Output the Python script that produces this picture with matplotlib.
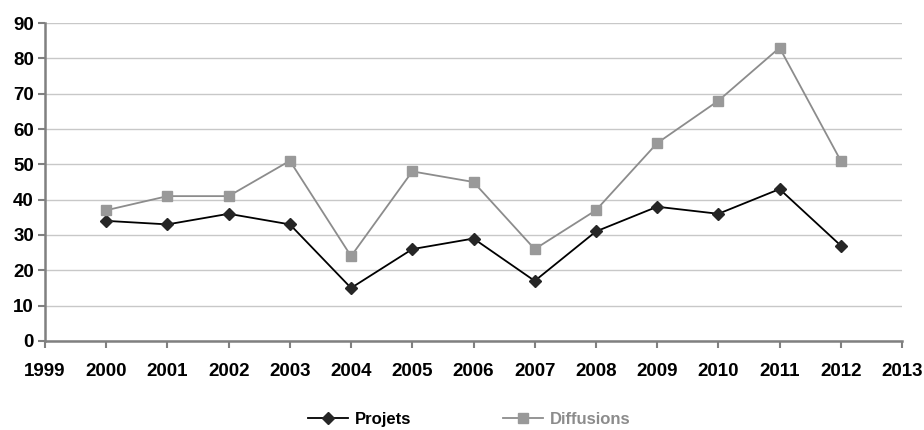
import matplotlib.pyplot as plt

years = [2000, 2001, 2002, 2003, 2004, 2005, 2006, 2007, 2008, 2009, 2010, 2011, 2012]
projets = [34, 33, 36, 33, 15, 26, 29, 17, 31, 38, 36, 43, 27]
diffusions = [37, 41, 41, 51, 24, 48, 45, 26, 37, 56, 68, 83, 51]
x_ticks = list(range(1999, 2014))
y_ticks = list(range(0, 100, 10))

plt.rcParams['font.family'] = ['Liberation Sans', 'DejaVu Sans']
plt.rcParams['font.weight'] = 'bold'

fig = plt.figure(figsize=(9.24, 4.30), dpi=100)
ax = fig.add_axes([0.0487, 0.207, 0.9275, 0.7395])

ax.plot(years, projets, color='black', lw=1.3, marker='D', ms=6.5,
        mfc='#262626', mec='#262626', label='Projets', zorder=3)
ax.plot(years, diffusions, color='#8c8c8c', lw=1.3, marker='s', ms=7,
        mfc='#999999', mec='#999999', label='Diffusions', zorder=3)

ax.set_xlim(1999, 2013)
ax.set_ylim(0, 90)
ax.set_xticks(x_ticks)
ax.set_yticks(y_ticks)
ax.tick_params(axis='both', labelsize=13.5, color='#808080', width=1.5, length=5)
ax.tick_params(axis='x', pad=10.5)
ax.tick_params(axis='y', pad=3)
for lab in ax.get_xticklabels() + ax.get_yticklabels():
    lab.set_fontweight('bold')

ax.grid(axis='y', color='#c8c8c8', lw=1)
ax.set_axisbelow(True)
for s in ['top', 'right']:
    ax.spines[s].set_visible(False)
for s in ['left', 'bottom']:
    ax.spines[s].set_color('#808080')
    ax.spines[s].set_linewidth(1.8)

leg = fig.legend(loc='lower center', bbox_to_anchor=(0.508, -0.028), ncol=2,
                 frameon=False, fontsize=12, handlelength=2.4, handletextpad=0.4,
                 columnspacing=5.5)
leg.get_texts()[1].set_color('#8c8c8c')

fig.savefig('out.png', dpi=100)
